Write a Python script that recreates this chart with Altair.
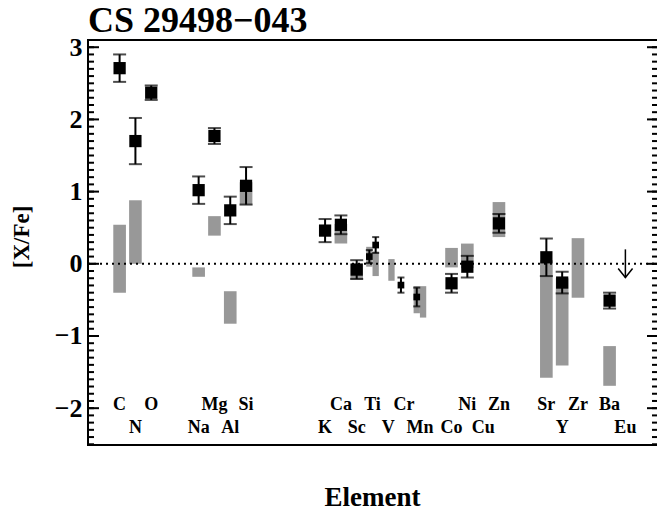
import altair as alt
import pandas as pd

# ---------------- data ----------------
elements = ["C", "N", "O", "Na", "Mg", "Al", "Si", "K", "Ca", "Sc", "Ti", "V",
            "Cr", "Mn", "Co", "Ni", "Cu", "Zn", "Sr", "Y", "Zr", "Ba", "Eu"]
elem_pos = [6, 7, 8, 11, 12, 13, 14, 19, 20, 21, 22, 23, 24, 25, 27, 28, 29, 30,
            33, 34, 35, 37, 38]
atomic_num = [6, 7, 8, 11, 12, 13, 14, 19, 20, 21, 22, 23, 24, 25, 27, 28, 29, 30,
              38, 39, 40, 56, 63]

# measured abundances (large squares)
pt_elem = ["C", "N", "O", "Na", "Mg", "Al", "Si", "K", "Ca", "Sc", "Co", "Ni",
           "Zn", "Sr", "Y", "Ba"]
pt_x = [6, 7, 8, 11, 12, 13, 14, 19, 20, 21, 27, 28, 30, 33, 34, 37]
pt_val = [2.71, 1.70, 2.37, 1.02, 1.77, 0.74, 1.08, 0.46, 0.54, -0.08, -0.27,
          -0.04, 0.56, 0.09, -0.26, -0.51]
pt_err = [0.19, 0.32, 0.10, 0.19, 0.11, 0.19, 0.26, 0.16, 0.13, 0.13, 0.13,
          0.15, 0.13, 0.26, 0.15, 0.11]

# ionisation-split species (small squares)
ion_elem = ["Ti I", "Ti II", "Cr I", "Mn I"]
ion_x = [21.8, 22.2, 23.8, 24.8]
ion_val = [0.10, 0.26, -0.295, -0.46]
ion_err = [0.09, 0.11, 0.105, 0.13]

# comparison ranges (grey bars)
bar_elem = ["C", "N", "Na", "Mg", "Al", "Si", "Ca", "Sc", "Ti I", "Ti II", "V II",
            "Mn I", "Mn II", "Co", "Ni", "Zn", "Sr", "Y", "Zr", "Ba"]
bar_x = [6, 7, 11, 12, 13, 14, 20, 21, 21.8, 22.2, 23.2, 24.8, 25.2, 27, 28, 30,
         33, 34, 35, 37]
bar_hi = [0.54, 0.88, -0.05, 0.66, -0.38, 1.13, 0.55, 0.0, 0.235, 0.17, 0.065,
          -0.31, -0.31, 0.22, 0.28, 0.855, 0.05, -0.20, 0.355, -1.14]
bar_lo = [-0.40, 0.0, -0.18, 0.39, -0.83, 0.82, 0.28, -0.22, -0.04, -0.17, -0.235,
          -0.685, -0.745, -0.05, -0.06, 0.37, -1.58, -1.41, -0.47, -1.69]

# upper limit
lim_elem = ["Eu"]
lim_x = [38]
lim_val = [0.20]

major_ticks = [-2, -1, 0, 1, 2, 3]
minor_ticks = [round(-2.5 + 0.1 * i, 1) for i in range(57)]

# ---------------- styling ----------------
FONT = "Liberation Serif"
GRAY = "#989898"
W, H = 569, 405

xs = alt.Scale(domain=[4, 40], nice=False, zero=False)
ys = alt.Scale(domain=[-2.51, 3.1], nice=False, zero=False)
yaxis = alt.Axis(values=major_ticks, format="d", ticks=False, domain=False, grid=False,
                 labelFont=FONT, labelFontWeight="bold", labelFontSize=26,
                 labelColor="black", labelPadding=6, title=None)

df_pt = pd.DataFrame({"el": pt_elem, "x": pt_x, "v": pt_val, "e": pt_err})
df_pt["lo"] = df_pt["v"] - df_pt["e"]
df_pt["hi"] = df_pt["v"] + df_pt["e"]

df_ion = pd.DataFrame({"el": ion_elem, "x": ion_x, "v": ion_val, "e": ion_err})
df_ion["lo"] = df_ion["v"] - df_ion["e"]
df_ion["hi"] = df_ion["v"] + df_ion["e"]

df_bar = pd.DataFrame({"el": bar_elem, "x": bar_x, "hi": bar_hi, "lo": bar_lo})
half = df_bar["el"].str.contains(" ").map({True: 0.2, False: 0.4})
df_bar["x0"] = df_bar["x"] - half
df_bar["x1"] = df_bar["x"] + half

ARROW = 0.39
df_lim = pd.DataFrame({"el": lim_elem, "x": lim_x, "v": lim_val})
df_lim["tip"] = df_lim["v"] - ARROW

df_lab = pd.DataFrame({"el": elements, "x": elem_pos, "z": atomic_num})
df_top = df_lab[df_lab["z"] % 2 == 0]
df_bot = df_lab[df_lab["z"] % 2 == 1]

df_major = pd.DataFrame({"t": major_ticks})
df_minor = pd.DataFrame({"t": minor_ticks})

X = lambda f: alt.X(f, type="quantitative", scale=xs, axis=None)
Y = lambda f: alt.Y(f, type="quantitative", scale=ys, axis=yaxis)

bars = alt.Chart(df_bar).mark_rect(color=GRAY).encode(
    x=X("x0"), x2="x1", y=Y("hi"), y2="lo")

zero = alt.Chart(pd.DataFrame({"z": [0]})).mark_rule(
    color="black", strokeWidth=2, strokeDash=[2, 4]).encode(
    y=Y("z"), x=alt.value(0), x2=alt.value(W))

def errbars(df, cap, sq):
    rule = alt.Chart(df).mark_rule(color="black", strokeWidth=2).encode(
        x=X("x"), y=Y("lo"), y2="hi")
    cap_lo = alt.Chart(df).mark_tick(color="black", orient="horizontal",
                                     size=cap, thickness=2).encode(x=X("x"), y=Y("lo"))
    cap_hi = alt.Chart(df).mark_tick(color="black", orient="horizontal",
                                     size=cap, thickness=2).encode(x=X("x"), y=Y("hi"))
    pts = alt.Chart(df).mark_square(color="black", filled=True, opacity=1,
                                    size=sq).encode(x=X("x"), y=Y("v"))
    return [rule, cap_lo, cap_hi, pts]

big = errbars(df_pt, 13, 150)
small = errbars(df_ion, 7, 45)

lim_line = alt.Chart(df_lim).mark_rule(color="black", strokeWidth=1.5).encode(
    x=X("x"), y=Y("v"), y2="tip")
lim_head = alt.Chart(df_lim).mark_point(
    shape="M-0.8,-1L0,0L0.8,-1", filled=False, color="black", strokeWidth=1.5,
    opacity=1, size=324).encode(x=X("x"), y=Y("tip"))

lab_top = alt.Chart(df_top).mark_text(
    font=FONT, fontWeight="bold", fontSize=18, color="black",
    align="center", baseline="alphabetic").encode(
    x=X("x"), y=alt.value(370), text="el:N")
lab_bot = alt.Chart(df_bot).mark_text(
    font=FONT, fontWeight="bold", fontSize=18, color="black",
    align="center", baseline="alphabetic").encode(
    x=X("x"), y=alt.value(392.5), text="el:N")

# frame and inward ticks
tick_l_major = alt.Chart(df_major).mark_rule(color="black", strokeWidth=2).encode(
    y=Y("t"), x=alt.value(0), x2=alt.value(11))
tick_l_minor = alt.Chart(df_minor).mark_rule(color="black", strokeWidth=2).encode(
    y=Y("t"), x=alt.value(0), x2=alt.value(6))
tick_r_major = alt.Chart(df_major).mark_rule(color="black", strokeWidth=2).encode(
    y=Y("t"), x=alt.value(W - 10), x2=alt.value(W))
tick_r_minor = alt.Chart(df_minor).mark_rule(color="black", strokeWidth=2).encode(
    y=Y("t"), x=alt.value(W - 5), x2=alt.value(W))

one = pd.DataFrame({"a": [0]})
frame_top = alt.Chart(one).mark_rule(color="black", strokeWidth=2).encode(
    x=alt.value(-1), x2=alt.value(W), y=alt.value(0))
frame_bot = alt.Chart(one).mark_rule(color="black", strokeWidth=2).encode(
    x=alt.value(-1), x2=alt.value(W), y=alt.value(H))
frame_left = alt.Chart(one).mark_rule(color="black", strokeWidth=2).encode(
    x=alt.value(0), y=alt.value(0), y2=alt.value(H))

title = alt.Chart(pd.DataFrame({"t": ["CS 29498\u2212043"]})).mark_text(
    font=FONT, fontWeight="bold", fontSize=36, color="black",
    align="left", baseline="alphabetic").encode(
    x=alt.value(0), y=alt.value(-8), text="t:N")
ytitle = alt.Chart(pd.DataFrame({"t": ["[X/Fe]"]})).mark_text(
    font=FONT, fontWeight="bold", fontSize=23, color="black", angle=270,
    align="center", baseline="middle").encode(
    x=alt.value(-66), y=alt.value(197), text="t:N")
xtitle = alt.Chart(pd.DataFrame({"t": ["Element"]})).mark_text(
    font=FONT, fontWeight="bold", fontSize=27, color="black",
    align="center", baseline="middle").encode(
    x=alt.value(W / 2), y=alt.value(458), text="t:N")

chart = alt.layer(
    bars, zero, *big, *small, lim_line, lim_head, lab_top, lab_bot,
    tick_l_major, tick_l_minor, tick_r_major, tick_r_minor,
    frame_top, frame_bot, frame_left, title, ytitle, xtitle
).properties(
    width=W, height=H,
    padding={"left": 88, "top": 40, "right": 0, "bottom": 67},
    autosize=alt.AutoSizeParams(type="none"),
    background="white",
).configure_view(stroke=None)

chart.save("out.html", embed_options={"renderer": "svg", "actions": False})
